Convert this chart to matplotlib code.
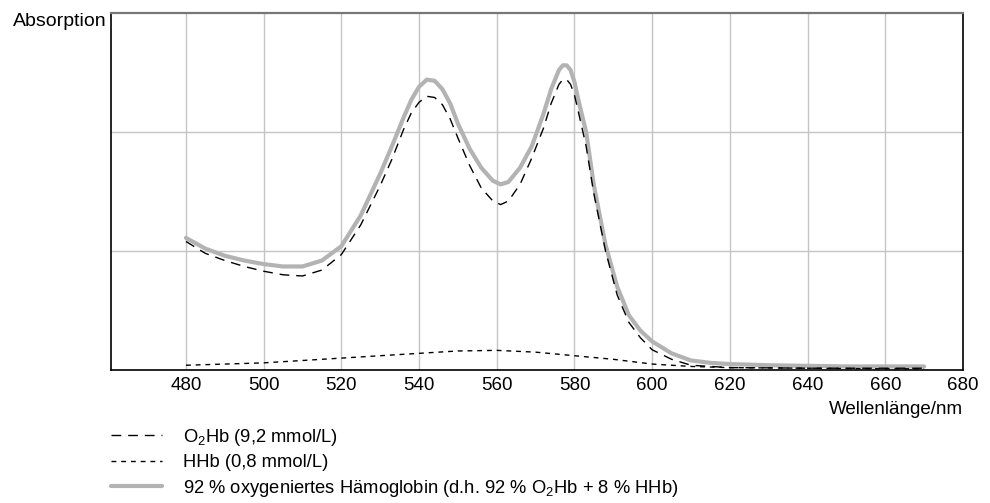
import matplotlib
matplotlib.use("Agg")
import matplotlib.pyplot as plt
import numpy as np

plt.rcParams['font.family'] = ['Liberation Sans', 'DejaVu Sans']
plt.rcParams['mathtext.default'] = 'regular'

# gesamt (92 % oxygeniert)
wl_total = [480, 485, 490, 495, 500, 505, 510, 515, 520, 525, 530, 533, 536, 538, 540, 542, 544,
            546, 548, 550, 553, 556, 559, 561, 563, 566, 569, 572, 574, 576, 577, 578, 579, 580,
            581, 583, 585, 588, 591, 594, 597, 600, 605, 610, 615, 620, 630, 640, 650, 660, 670]
total = [1.11, 1.02, 0.96, 0.92, 0.89, 0.87, 0.87, 0.92, 1.04, 1.30, 1.65, 1.88, 2.12, 2.27, 2.38, 2.44, 2.43,
         2.36, 2.24, 2.07, 1.86, 1.70, 1.59, 1.56, 1.58, 1.70, 1.88, 2.15, 2.36, 2.52, 2.56, 2.56, 2.52, 2.42,
         2.27, 2.00, 1.55, 1.05, 0.70, 0.46, 0.33, 0.24, 0.14, 0.08, 0.06, 0.05, 0.04, 0.035, 0.03, 0.03, 0.03]

# O2Hb
o2hb = [1.08, 0.98, 0.92, 0.87, 0.83, 0.80, 0.79, 0.84, 0.97, 1.22, 1.55, 1.77, 2.02, 2.16, 2.25, 2.30, 2.29,
        2.23, 2.11, 1.95, 1.72, 1.53, 1.42, 1.39, 1.42, 1.56, 1.78, 2.03, 2.24, 2.40, 2.44, 2.44, 2.40, 2.31,
        2.17, 1.88, 1.48, 1.00, 0.63, 0.40, 0.27, 0.17, 0.09, 0.04, 0.03, 0.02, 0.018, 0.015, 0.015, 0.015, 0.015]

# HHb
wl_hhb = [480, 490, 500, 510, 520, 530, 540, 550, 560, 570, 580, 590, 600, 610, 620, 640, 660, 670]
hhb = [0.04, 0.05, 0.06, 0.08, 0.10, 0.12, 0.14, 0.16, 0.165, 0.15, 0.12, 0.09, 0.05, 0.03, 0.02,
       0.015, 0.01, 0.01]

xticks = list(range(480, 681, 20))

fig = plt.figure(figsize=(9.9, 5.03), dpi=100)
ax = fig.add_axes([0.1121, 0.2644, 0.8606, 0.7098])

l1, = ax.plot(wl_total, o2hb, color='black', lw=1.0, dashes=(7, 5),
              label='O$_2$Hb (9,2 mmol/L)', zorder=3)
l2, = ax.plot(wl_hhb, hhb, color='black', lw=1.0, dashes=(3.5, 3.5),
              label='HHb (0,8 mmol/L)', zorder=3)
l3, = ax.plot(wl_total, total, color='#b3b3b3', lw=3.0, solid_capstyle='round',
              label='92 % oxygeniertes Hämoglobin (d.h. 92 % O$_2$Hb + 8 % HHb)', zorder=2)

ax.set_xlim(460.7, 680)
ax.set_ylim(0, 3)
ax.set_xticks(xticks)
ax.set_yticks([1, 2])
ax.set_yticklabels([])
ax.tick_params(axis='both', length=0, pad=5)
for lab in ax.get_xticklabels():
    lab.set_fontsize(13.5)
ax.grid(True, color='#c4c4c4', lw=1.0)
ax.set_axisbelow(True)

for s in ['left', 'right', 'bottom']:
    ax.spines[s].set_color('black')
    ax.spines[s].set_linewidth(1.2)
ax.spines['top'].set_color('#777777')
ax.spines['top'].set_linewidth(1.6)

fig.text(107 / 990, 1 - 22 / 503, 'Absorption', ha='right', va='center', fontsize=14)
fig.text(963 / 990, 1 - 409 / 503, 'Wellenlänge/nm', ha='right', va='center', fontsize=13.5)

fig.legend(handles=[l1, l2, l3], loc='upper left', bbox_to_anchor=(0.103, 0.170),
           frameon=False, fontsize=13.2, handlelength=2.8, handletextpad=1.1,
           labelspacing=0.36, borderpad=0)

fig.savefig('out.png', dpi=100)
